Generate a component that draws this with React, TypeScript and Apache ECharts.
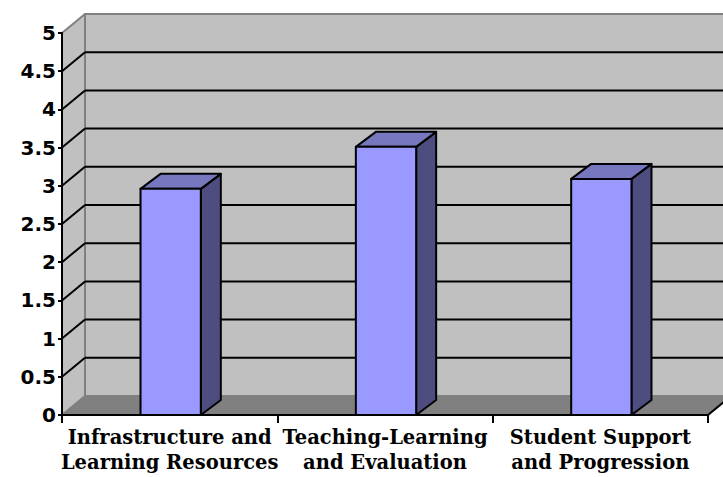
import React, { useEffect, useRef } from "react";
import * as echarts from "echarts";

const categories = [
  "Infrastructure and\nLearning Resources",
  "Teaching-Learning\nand Evaluation",
  "Student Support\nand Progression",
];
const values = [2.96, 3.51, 3.09];
const yMin = 0;
const yMax = 5;
const yStep = 0.5;
const yTicks = [0.5, 1, 1.5, 2, 2.5, 3, 3.5, 4, 4.5];

const WALL_DX = 23;
const WALL_DY = -19;
const BAR_DX = 20;
const BAR_DY = -15;

export default function App() {
  const ref = useRef<HTMLDivElement>(null);
  useEffect(() => {
    if (!ref.current) return;
    const chart = echarts.init(ref.current, undefined, { renderer: "svg" });

    const wallsRender = (params: any, api: any) => {
      const cs = params.coordSys;
      const x0 = cs.x;
      const x1 = cs.x + cs.width;
      const yb = api.coord([0, yMin])[1];
      const yt = api.coord([0, yMax])[1];
      const far = x1 + WALL_DX + 40;
      return {
        type: "group",
        children: [
          {
            type: "polygon",
            shape: { points: [[x0, yt], [x0 + WALL_DX, yt + WALL_DY], [x0 + WALL_DX, yb + WALL_DY], [x0, yb]] },
            style: { fill: "#C0C0C0" },
          },
          {
            type: "polygon",
            shape: { points: [[x0 + WALL_DX, yt + WALL_DY], [far, yt + WALL_DY], [far, yb + WALL_DY], [x0 + WALL_DX, yb + WALL_DY]] },
            style: { fill: "#C0C0C0", stroke: "#808080", lineWidth: 2 },
          },
          {
            type: "polygon",
            shape: { points: [[x0, yb], [x1, yb], [x1 + WALL_DX, yb + WALL_DY], [x0 + WALL_DX, yb + WALL_DY]] },
            style: { fill: "#808080" },
          },
          {
            type: "line",
            shape: { x1: x0, y1: yt, x2: x0 + WALL_DX, y2: yt + WALL_DY },
            style: { stroke: "#808080", lineWidth: 2 },
          },
          {
            type: "line",
            shape: { x1: x0, y1: yb, x2: x0 + WALL_DX, y2: yb + WALL_DY },
            style: { stroke: "#808080", lineWidth: 2 },
          },
          {
            type: "line",
            shape: { x1: x1, y1: yb, x2: x1 + WALL_DX, y2: yb + WALL_DY },
            style: { stroke: "#000", lineWidth: 2 },
          },
        ],
      };
    };

    const gridRender = (params: any, api: any) => {
      const cs = params.coordSys;
      const x0 = cs.x;
      const x1 = cs.x + cs.width;
      const y = api.coord([0, api.value(1)])[1];
      return {
        type: "group",
        children: [
          {
            type: "line",
            shape: { x1: x0 + WALL_DX, y1: y + WALL_DY, x2: x1 + WALL_DX + 40, y2: y + WALL_DY },
            style: { stroke: "#000", lineWidth: 2 },
          },
          {
            type: "line",
            shape: { x1: x0, y1: y, x2: x0 + WALL_DX, y2: y + WALL_DY },
            style: { stroke: "#000", lineWidth: 2 },
          },
        ],
      };
    };

    const barRender = (params: any, api: any) => {
      const idx = api.value(0);
      const [cx, ty] = api.coord([idx, api.value(1)]);
      const by = api.coord([idx, yMin])[1];
      const w = api.size([1, 0])[0] * 0.28;
      const l = cx - w / 2 + 1;
      const r = cx + w / 2 + 1;
      const stroke = { stroke: "#000", lineWidth: 2, lineJoin: "round" };
      return {
        type: "group",
        children: [
          {
            type: "polygon",
            shape: { points: [[r, ty], [r + BAR_DX, ty + BAR_DY], [r + BAR_DX, by + BAR_DY], [r, by]] },
            style: { fill: "#4D4D80", ...stroke },
          },
          {
            type: "polygon",
            shape: { points: [[l, ty], [l + BAR_DX, ty + BAR_DY], [r + BAR_DX, ty + BAR_DY], [r, ty]] },
            style: { fill: "#7777C0", ...stroke },
          },
          {
            type: "polygon",
            shape: { points: [[l, ty], [r, ty], [r, by], [l, by]] },
            style: { fill: "#9999FF", ...stroke },
          },
        ],
      };
    };

    chart.setOption({
      animation: false,
      backgroundColor: "#ffffff",
      grid: { left: 62, right: 15, top: 33, bottom: 62, containLabel: false, outerBoundsMode: "none" },
      xAxis: {
        type: "category",
        data: categories,
        z: 10,
        axisLine: { show: true, lineStyle: { color: "#000", width: 2 } },
        axisTick: { show: true, length: 8, lineStyle: { color: "#000", width: 2 } },
        axisLabel: {
          color: "#000",
          fontFamily: "DejaVu Serif",
          fontWeight: "bold",
          fontSize: 19.5,
          lineHeight: 25,
          margin: 10,
          interval: 0,
        },
        splitLine: { show: false },
      },
      yAxis: {
        type: "value",
        min: yMin,
        max: yMax,
        interval: yStep,
        z: 10,
        axisLine: { show: true, lineStyle: { color: "#000", width: 2 } },
        axisTick: { show: true, length: 4, lineStyle: { color: "#000", width: 2 } },
        axisLabel: {
          color: "#000",
          fontFamily: "DejaVu Sans",
          fontWeight: "bold",
          fontSize: 20,
          margin: 6,
        },
        splitLine: { show: false },
      },
      series: [
        { type: "custom", name: "walls", data: [[0, 0]], renderItem: wallsRender, z: 1, silent: true },
        {
          type: "custom",
          name: "gridlines",
          data: yTicks.map((v) => [0, v]),
          renderItem: gridRender,
          z: 2,
          silent: true,
        },
        {
          type: "custom",
          name: "values",
          data: values.map((v, i) => [i, v]),
          renderItem: barRender,
          z: 3,
        },
      ],
    });
    return () => chart.dispose();
  }, []);
  return (
    <div
      ref={ref}
      style={{ position: "fixed", left: 0, top: 0, width: 723, height: 477, background: "#fff" }}
    />
  );
}
